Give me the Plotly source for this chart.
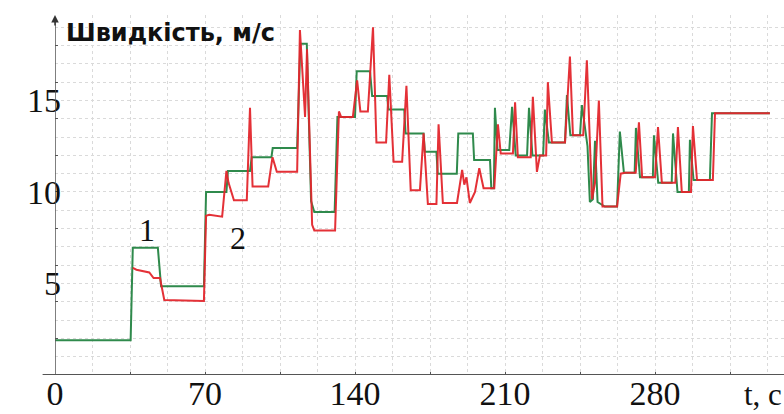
import plotly.graph_objects as go

# ---- data (time in s, speed in m/s) ----
t_green = [0, 35.3, 36.3, 48, 49.5, 69.5, 70.5, 80, 80.7, 91, 91.8, 101, 101.6, 113, 114.5, 117.5, 119.5, 121, 130.5, 131.8,
           140, 140.8, 147, 148, 155, 155.6, 163, 163.6, 172, 172.6, 178, 178.6, 187.5, 188.2, 195, 195.6, 203, 203.6, 204.8,
           205.3, 206.5, 212, 213.3, 215, 220.3, 221.2, 222.8, 227.8, 228.6, 230.5, 238, 238.9, 240.5, 245, 245.9, 248.5,
           249.6, 251, 252, 253.2, 256.6, 262.3, 263.6, 265.5, 270.5, 271.1, 273, 279, 279.5, 281.5, 287.8, 288.4, 290.5,
           295.8, 296.3, 298, 305.6, 306.6, 308, 333.6]
v_green = [1.9, 1.9, 6.95, 6.95, 4.85, 4.85, 10.0, 10.0, 11.15, 11.15, 11.9, 11.9, 12.4, 12.4, 18.1, 18.1, 9.5, 8.9, 8.9, 14.1,
           14.1, 16.6, 16.6, 15.25, 15.25, 14.5, 14.5, 13.2, 13.2, 12.2, 12.2, 11.0, 11.0, 13.2, 13.2, 11.75, 11.75, 10.2, 10.2,
           14.6, 12.3, 12.3, 14.65, 12.0, 12.0, 14.6, 12.0, 12.0, 14.5, 12.7, 12.7, 15.3, 13.1, 13.1, 14.75, 12.5,
           9.45, 9.6, 12.8, 9.45, 9.2, 9.2, 13.3, 11.05, 11.05, 13.5, 10.8, 10.8, 13.1, 10.5, 10.5, 13.2, 10.0,
           10.0, 12.85, 10.65, 10.65, 14.3, 14.3, 14.3]

t_red = [36.3, 38, 44, 46, 49, 51, 69.5, 70.5, 72, 78, 80, 81, 83.5, 89.5, 91, 92.2, 99.5, 101.5, 103.5, 113, 114.3, 116.7,
         117.6, 119.5, 120, 121, 130.7, 132.5, 133.5, 139, 141, 142.5, 146, 148.4, 150, 154.5, 156, 158, 162, 164, 166, 170.3,
         172, 174, 178, 179, 181, 187.6, 189, 190, 191, 192, 193.6, 196, 198, 200, 205, 206.7, 208, 213.7, 214.7, 216, 222,
         223, 224.9, 226.3, 229.2, 230, 231.9, 238, 240.3, 241.7, 246.5, 248.2, 250.6, 252, 253.8, 255.5, 262.3, 264, 266,
         271, 272.5, 274, 280, 281.4, 283.2, 289.5, 290.7, 292.5, 296.8, 297.7, 299.6, 307, 308, 333.6]
v_red = [5.85, 5.75, 5.6, 5.3, 5.3, 4.1, 4.05, 8.7, 8.75, 8.65, 11.15, 10.5, 9.55, 9.55, 14.6, 10.3, 10.3, 11.9, 11.1, 11.1,
         18.85, 14.1, 17.8, 9.0, 8.2, 7.9, 7.9, 14.4, 14.1, 14.1, 16.1, 14.4, 14.4, 19.0, 12.7, 12.7, 16.4, 11.65, 11.65, 15.8,
         10.1, 10.1, 13.2, 9.35, 9.35, 13.7, 9.4, 9.4, 10.5, 11.2, 10.4, 10.8, 9.4, 10.0, 11.3, 10.2, 10.2, 13.7, 12.1, 12.1,
         14.9, 11.9, 11.9, 15.2, 11.1, 12.0, 12.0, 16.0, 12.7, 12.7, 17.4, 13.1, 13.1, 17.2, 9.6, 10.5, 15.0, 9.2, 9.2, 11.0,
         11.05, 11.05, 13.8, 10.8, 10.8, 13.55, 10.5, 10.5, 13.55, 10.0, 10.0, 13.6, 10.65, 10.65, 14.3, 14.3]

x_tick_vals = [0, 70, 140, 210, 280]
y_tick_vals = [5, 10, 15]
y_title = "Швидкість, м/с"
x_title = "t, c"
curve_labels = ["1", "2"]

GREEN = "#2f8a4c"
RED = "#e3262d"
serif = "Liberation Serif, Times New Roman, serif"

fig = go.Figure()
fig.add_trace(go.Scatter(x=t_green, y=v_green, mode="lines", line=dict(color=GREEN, width=2), showlegend=False))
fig.add_trace(go.Scatter(x=t_red, y=v_red, mode="lines", line=dict(color=RED, width=2), opacity=0.95, showlegend=False))

grid_x = [17.5 * i for i in range(0, 20)]
grid_y = list(range(1, 20))

fig.update_layout(
    width=784, height=414,
    margin=dict(l=55, r=0, t=15, b=39),
    paper_bgcolor="white", plot_bgcolor="white",
    xaxis=dict(range=[0, 340.2], tickmode="array",
               tickvals=grid_x,
               ticktext=[f"{v:g}" if v in x_tick_vals else "" for v in grid_x],
               showgrid=True, gridcolor="#dadada", griddash="dot", gridwidth=1,
               zeroline=False, showline=False, ticks="", ticklabelstandoff=-5,
               tickfont=dict(family=serif, size=34, color="#111"),
               minor=dict(tickvals=[35 * i for i in range(1, 10)], ticks="inside", ticklen=3, tickcolor="#555", showgrid=False)),
    yaxis=dict(range=[0, 19.67], tickmode="array",
               tickvals=grid_y,
               ticktext=[str(v) if v in y_tick_vals else "" for v in grid_y],
               showgrid=True, gridcolor="#dadada", griddash="dot", gridwidth=1,
               zeroline=False, showline=False, ticks="", ticklabelstandoff=-7,
               tickfont=dict(family=serif, size=34, color="#111"),
               minor=dict(tickvals=[2 * i for i in range(1, 10)], ticks="inside", ticklen=3, tickcolor="#555", showgrid=False)),
)

# axes lines
fig.add_shape(type="line", xref="paper", yref="y", x0=-0.017, x1=1, y0=0, y1=0, line=dict(color="#555", width=2))
fig.add_shape(type="line", xref="x", yref="paper", x0=0, x1=0, y0=0, y1=0.99, line=dict(color="#555", width=1.5))
fig.add_annotation(x=0, y=1.0, xref="x", yref="paper", ax=0, ay=12, showarrow=True, arrowhead=2,
                   arrowsize=1, arrowwidth=1.5, arrowcolor="#333", text="")

fig.add_annotation(x=0.012, y=0.95, xref="paper", yref="paper", xanchor="left", yanchor="middle",
                   text="<b>" + y_title + "</b>", showarrow=False,
                   font=dict(family="DejaVu Sans, sans-serif", size=24, color="#111"))
fig.add_annotation(x=1.0, y=-0.055, xref="paper", yref="paper", xanchor="right", yanchor="middle",
                   text=x_title, showarrow=False, font=dict(family=serif, size=31, color="#111"))
fig.add_annotation(x=42.9, y=7.9, xref="x", yref="y", text=curve_labels[0], showarrow=False,
                   font=dict(family=serif, size=32, color="#111"))
fig.add_annotation(x=85.4, y=7.5, xref="x", yref="y", text=curve_labels[1], showarrow=False,
                   font=dict(family=serif, size=32, color="#111"))

fig.write_html("out.html", config={"displayModeBar": False},
               post_script="document.body.style.margin='0px';")
